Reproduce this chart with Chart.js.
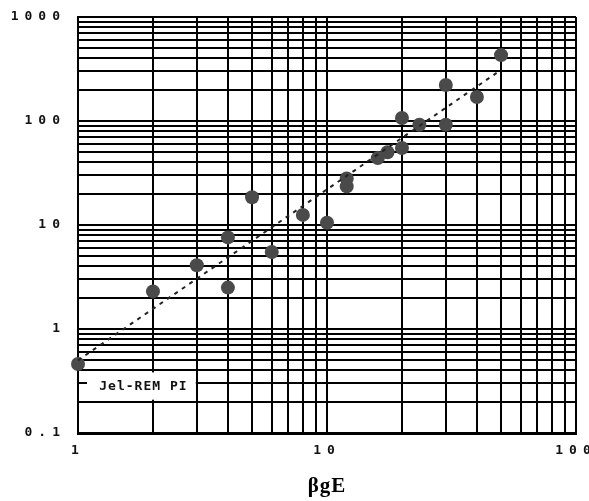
<!DOCTYPE html>
<html>
<head>
<meta charset="utf-8">
<script src="https://cdn.jsdelivr.net/npm/chart.js@4.4.1/dist/chart.umd.min.js"></script>
<style>
  html, body { margin: 0; padding: 0; background: #fff; }
  #wrap { width: 589px; height: 501px; }
</style>
</head>
<body>
<div id="wrap"><canvas id="chart" width="589" height="501"></canvas></div>
<script>
const xValues = [1, 2, 3, 4, 4, 5, 6, 8, 10, 12, 12, 16, 17.5, 20, 20, 23.5, 30, 30, 40, 50];
const yValues = [0.46, 2.3, 4.1, 2.5, 7.6, 18.5, 5.5, 12.5, 10.5, 23.5, 28, 44, 50, 55, 107, 92, 92, 222, 170, 430];

// fitted trend line, two end points
const fitX = [1, 48];
const fitY = [0.5, 290];

// axes
const xDecades = [1, 10];
const yDecades = [0.1, 1, 10, 100];
const minorSteps = [1, 2, 3, 4, 5, 6, 7, 8, 9];
const xLabelValues = [1, 10, 100];
const xLabels = ['1', '10', '100'];
const yLabelValues = [0.1, 1, 10, 100, 1000];
const yLabels = ['0.1', '1', '10', '100', '1000'];
const xTitle = 'βgE';
const boxText = 'Jel-REM PI';

let xTicks = [];
xDecades.forEach(d => minorSteps.forEach(m => xTicks.push(d * m)));
xTicks.push(100);
let yTicks = [];
yDecades.forEach(d => minorSteps.forEach(m => yTicks.push(d * m)));
yTicks.push(1000);

const spacing = {
    id: 'spacing',
    beforeLayout(chart) { chart.ctx.letterSpacing = '6px'; },
    beforeDraw(chart) {
        chart.ctx.letterSpacing = '6px';
        const s = chart.scales.x;
        if (!s._plainTitle) {
            const orig = s.drawTitle;
            s.drawTitle = function () {
                const c = this.ctx;
                const old = c.letterSpacing;
                c.letterSpacing = '1px';
                orig.apply(this, arguments);
                c.letterSpacing = old;
            };
            s._plainTitle = true;
        }
    }
};

const labelBox = {
    id: 'labelBox',
    beforeDatasetsDraw(chart) {
        const ctx = chart.ctx;
        const a = chart.chartArea;
        const x = chart.scales.x, y = chart.scales.y;
        const left = a.left + 9;
        const right = x.getPixelForValue(3) - 1;
        const top = y.getPixelForValue(0.4) + 2;
        const bottom = y.getPixelForValue(0.2) - 2;
        ctx.save();
        ctx.fillStyle = '#fff';
        ctx.fillRect(left, top, right - left, bottom - top);
        ctx.letterSpacing = '1px';
        ctx.fillStyle = '#111';
        ctx.font = 'bold 13px "DejaVu Sans Mono"';
        ctx.textAlign = 'center';
        ctx.textBaseline = 'middle';
        ctx.fillText(boxText, (left + right) / 2 + 2, (top + bottom) / 2 + 1);
        ctx.restore();
    }
};

const points = xValues.map((v, i) => ({ x: v, y: yValues[i] }));
const fitLine = fitX.map((v, i) => ({ x: v, y: fitY[i] }));

new Chart(document.getElementById('chart'), {
    type: 'scatter',
    data: {
        datasets: [{
            type: 'line',
            data: fitLine,
            borderColor: '#222',
            borderWidth: 2,
            borderDash: [4, 5],
            pointRadius: 0,
            fill: false
        }, {
            data: points,
            backgroundColor: '#4a4a4a',
            borderWidth: 0,
            pointRadius: 7,
            pointHoverRadius: 7,
            clip: false
        }]
    },
    options: {
        responsive: false,
        animation: false,
        events: [],
        layout: { padding: { top: 17, right: 13, bottom: 0, left: 0 } },
        plugins: { legend: { display: false }, tooltip: { enabled: false } },
        scales: {
            x: {
                type: 'logarithmic',
                min: 1,
                max: 100,
                afterBuildTicks(s) { s.ticks = xTicks.map(v => ({ value: v })); },
                afterFit(s) { s.height = 68; s.paddingLeft = 0; s.paddingRight = 0; },
                grid: { color: '#000', lineWidth: 2, drawTicks: false },
                border: { color: '#000', width: 3 },
                ticks: {
                    autoSkip: false,
                    maxRotation: 0,
                    padding: 10,
                    color: '#111',
                    font: { family: 'DejaVu Sans Mono', size: 13, weight: 'bold' },
                    callback(value) {
                        const i = xLabelValues.indexOf(value);
                        return i >= 0 ? xLabels[i] : '';
                    }
                },
                title: {
                    display: true,
                    text: xTitle,
                    color: '#000',
                    font: { family: 'Liberation Serif', size: 21, weight: 'bold' },
                    padding: { top: 0, bottom: 2 }
                }
            },
            y: {
                type: 'logarithmic',
                min: 0.1,
                max: 1000,
                afterBuildTicks(s) { s.ticks = yTicks.map(v => ({ value: v })); },
                afterFit(s) { s.width = 78; s.paddingTop = 0; s.paddingBottom = 0; },
                grid: { color: '#000', lineWidth: 2, drawTicks: false },
                border: { color: '#000', width: 2 },
                ticks: {
                    autoSkip: false,
                    padding: 12,
                    color: '#111',
                    font: { family: 'DejaVu Sans Mono', size: 13, weight: 'bold' },
                    callback(value) {
                        const i = yLabelValues.indexOf(value);
                        return i >= 0 ? yLabels[i] : '';
                    }
                }
            }
        }
    },
    plugins: [spacing, labelBox]
});
</script>
</body>
</html>
